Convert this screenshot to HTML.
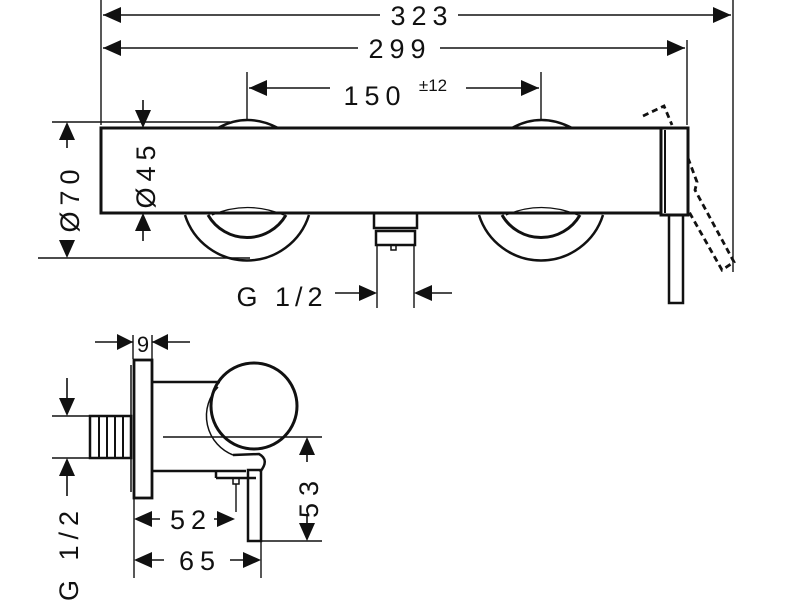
<!DOCTYPE html>
<html><head><meta charset="utf-8"><style>
html,body{margin:0;padding:0;background:#fff;}
svg{display:block;}
text{font-family:"Liberation Sans","DejaVu Sans",sans-serif;fill:#111;}
</style></head><body>
<svg width="785" height="600" viewBox="0 0 785 600" xmlns="http://www.w3.org/2000/svg">
<g stroke="#111" fill="none" stroke-width="1.4">
<line x1="101" y1="0" x2="101" y2="125"/>
<line x1="733" y1="0" x2="733" y2="272"/>
<line x1="687" y1="40" x2="687" y2="125"/>
<line x1="247" y1="72" x2="247" y2="120"/>
<line x1="541" y1="72" x2="541" y2="120"/>
<path d="M103,15 H380 M458,15 H731" stroke-width="1.6"/>
<path d="M103,15 l18,-8 v16 z M731,15 l-18,-8 v16 z" fill="#111" stroke="none"/>
<path d="M103,48 H358 M440,48 H685" stroke-width="1.6"/>
<path d="M103,48 l18,-8 v16 z M685,48 l-18,-8 v16 z" fill="#111" stroke="none"/>
<path d="M249,88 H330 M466,88 H539" stroke-width="1.6"/>
<path d="M249,88 l18,-8 v16 z M539,88 l-18,-8 v16 z" fill="#111" stroke="none"/>
<line x1="52" y1="122" x2="230" y2="122"/>
<line x1="38" y1="258" x2="250" y2="258"/>
<path d="M67,122 l-8,18 h16 z M67,258 l-8,-18 h16 z" fill="#111" stroke="none"/>
<path d="M67,140 V148 M67,244 V240" stroke-width="1.6"/>
<path d="M143,128 l-8,-18 h16 z M143,213 l-8,18 h16 z" fill="#111" stroke="none"/>
<path d="M143,100 V110 M143,231 V241" stroke-width="1.6"/>
<rect x="101" y="128" width="560" height="85" stroke-width="3"/>
<path d="M218,128 Q247,112 278,128 M512,128 Q541,112 572,128" stroke-width="2.5"/>
<path d="M185,215 A65,65 0 0 0 309,215 M479,215 A65,65 0 0 0 603,215" stroke-width="2.5"/>
<path d="M208,215 A45,45 0 0 0 286,215 M502,215 A45,45 0 0 0 580,215" stroke-width="3"/>
<path d="M212,215 Q247,200 284,215 M506,215 Q541,200 578,215" stroke-width="1.3"/>
<path d="M374,214 V228 H417 V214" stroke-width="2.5"/>
<path d="M376,231 V245 H415 V231 Z" stroke-width="2.5"/>
<rect x="391" y="245" width="5" height="5" stroke-width="1.5"/>
<line x1="377" y1="245" x2="377" y2="308"/>
<line x1="414" y1="245" x2="414" y2="308"/>
<path d="M335,293 H362 M429,293 H452" stroke-width="1.6"/>
<path d="M377,293 l-18,-8 v16 z M414,293 l18,-8 v16 z" fill="#111" stroke="none"/>
<rect x="661" y="128" width="27" height="87" stroke-width="3"/>
<line x1="665" y1="130" x2="665" y2="213" stroke-width="2"/>
<rect x="669" y="215" width="14" height="88" stroke-width="2.5"/>
<path d="M643,116 L664,106 L672,125 M688,158 L697,182 L695,190 L734,262 L722,270 L688,210" stroke-width="2.8" stroke-dasharray="6,4"/>
<line x1="95" y1="342" x2="133" y2="342"/>
<line x1="152" y1="342" x2="190" y2="342"/>
<path d="M133,342 l-16,-8 v16 z M152,342 l16,-8 v16 z" fill="#111" stroke="none"/>
<line x1="133" y1="335" x2="133" y2="359"/>
<line x1="152" y1="335" x2="152" y2="359"/>
<rect x="134" y="360" width="18" height="138" stroke-width="2.8"/>
<line x1="131" y1="365" x2="131" y2="492" stroke-width="1.5"/>
<rect x="90" y="416" width="41" height="42" stroke-width="2.5"/>
<path d="M99,417 V457 M107,417 V457 M115,417 V457 M123,417 V457" stroke-width="2"/>
<line x1="52" y1="416" x2="90" y2="416"/>
<line x1="52" y1="458" x2="90" y2="458"/>
<path d="M67,416 l-8,-18 h16 z M67,458 l-8,18 h16 z" fill="#111" stroke="none"/>
<path d="M67,378 V398 M67,476 V496" stroke-width="1.6"/>
<path d="M152,382 H220" stroke-width="2.5"/>
<path d="M152,471 H246" stroke-width="2.5"/>
<circle cx="254" cy="406" r="43" stroke-width="3"/>
<path d="M218,387 A42,42 0 0 0 233,455" stroke-width="1.5"/>
<path d="M233,455 L259,454 Q270,460 260,472" stroke-width="2.5"/>
<path d="M216,478 H256 M216,470 V478" stroke-width="2.5"/>
<rect x="233" y="478" width="6" height="6" stroke-width="1.5"/>
<line x1="236" y1="484" x2="236" y2="512"/>
<rect x="248" y="470" width="13" height="71" stroke-width="2.5"/>
<line x1="163" y1="437" x2="322" y2="437"/>
<line x1="262" y1="541" x2="322" y2="541"/>
<path d="M307,437 l-8,18 h16 z M307,541 l-8,-18 h16 z" fill="#111" stroke="none"/>
<path d="M307,455 V462 M307,516 V523" stroke-width="1.6"/>
<line x1="134" y1="498" x2="134" y2="578"/>
<line x1="261" y1="541" x2="261" y2="578"/>
<path d="M134,519 l18,-8 v16 z M235,519 l-18,-8 v16 z" fill="#111" stroke="none"/>
<path d="M152,519 H160 M214,519 H217" stroke-width="1.6"/>
<path d="M134,560 l18,-8 v16 z M261,560 l-18,-8 v16 z" fill="#111" stroke="none"/>
<path d="M152,560 H164 M230,560 H243" stroke-width="1.6"/>
<g font-size="27" text-anchor="middle" stroke="none" fill="#111">
<text x="422" y="25" letter-spacing="6">323</text>
<text x="400" y="58" letter-spacing="6">299</text>
<text x="375" y="105" letter-spacing="6">150</text>
<text x="433" y="91" font-size="17">±12</text>
<text x="282" y="306" letter-spacing="5">G 1/2</text>
<text transform="translate(79,198) rotate(-90)" letter-spacing="6">Ø70</text>
<text transform="translate(155,174) rotate(-90)" letter-spacing="6">Ø45</text>
<text x="143" y="352" font-size="22">9</text>
<text x="191" y="529" letter-spacing="6">52</text>
<text x="200" y="570" letter-spacing="6">65</text>
<text transform="translate(318,496) rotate(-90)" letter-spacing="7">53</text>
<text transform="translate(78,553) rotate(-90)" letter-spacing="6">G 1/2</text>
</g>
</g>
</svg>
</body></html>
